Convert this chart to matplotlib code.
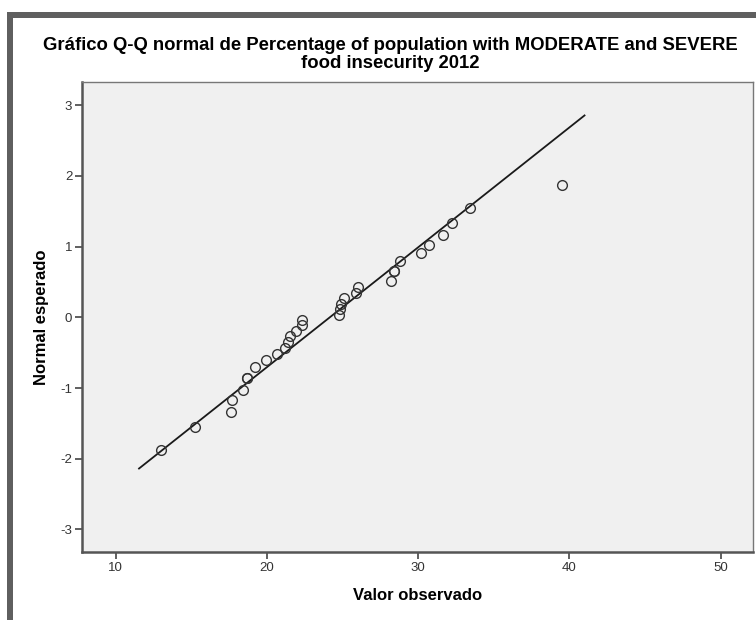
import numpy as np
import matplotlib
matplotlib.use("Agg")
import matplotlib.pyplot as plt
from matplotlib.patches import Rectangle

plt.rcParams['font.family'] = ['Liberation Sans', 'DejaVu Sans']
plt.rcParams['axes.unicode_minus'] = False

# Observed percentages (sorted) and their expected normal scores
observed = [13.0, 15.21, 17.62, 17.70, 18.40, 18.70, 18.70, 19.23, 19.91, 20.68,
            21.21, 21.39, 21.50, 21.89, 22.30, 22.34, 24.74, 24.85, 24.90, 25.07,
            25.91, 26.01, 28.21, 28.43, 28.43, 28.83, 30.20, 30.70, 31.63, 32.25,
            33.42, 39.54]
expected = [-1.876, -1.547, -1.335, -1.169, -1.030, -0.852, -0.852, -0.699, -0.605, -0.515,
            -0.431, -0.349, -0.269, -0.191, -0.114, -0.038, 0.038, 0.114, 0.191, 0.269,
            0.349, 0.431, 0.515, 0.651, 0.651, 0.800, 0.908, 1.030, 1.169, 1.335,
            1.547, 1.876]

x_ticks = [10, 20, 30, 40, 50]
y_ticks = [-3, -2, -1, 0, 1, 2, 3]

title_lines = ["Gráfico Q-Q normal de Percentage of population with MODERATE and SEVERE",
               "food insecurity 2012"]
xlabel = "Valor observado"
ylabel = "Normal esperado"

W, H = 756, 620
fig = plt.figure(figsize=(W / 100, H / 100), dpi=100)
fig.patch.set_facecolor("white")

# Outer frame (left and top edges visible)
fig.patches.append(Rectangle((7 / W, 0), 6 / W, (H - 12) / H, transform=fig.transFigure,
                             facecolor="#5f5f5f", edgecolor="none"))
fig.patches.append(Rectangle((7 / W, (H - 18) / H), (W - 7) / W, 6 / H, transform=fig.transFigure,
                             facecolor="#5f5f5f", edgecolor="none"))

ax_l, ax_r, ax_t, ax_b = 82, 753, 82, 552
ax = fig.add_axes([ax_l / W, (H - ax_b) / H, (ax_r - ax_l) / W, (ax_b - ax_t) / H])
ax.set_facecolor("#f0f0f0")

# Reference line: standardized values of the observed data
obs = np.array(observed)
mu, sd = obs.mean(), obs.std(ddof=1)
span = obs.max() - obs.min()
lx = np.array([obs.min() - 0.055 * span, obs.max() + 0.055 * span])
ax.plot(lx, (lx - mu) / sd, color="#1a1a1a", lw=1.3, zorder=2)

ax.plot(observed, expected, linestyle="none", marker="o", markersize=7.0,
        markerfacecolor="none", markeredgecolor="#333333", markeredgewidth=1.0, zorder=3)

ax.set_xlim(7.77, 52.14)
ax.set_ylim(-3.32, 3.33)
ax.set_xticks(x_ticks)
ax.set_yticks(y_ticks)
ax.tick_params(axis="both", direction="out", length=5, width=1.2, color="#444444",
               labelsize=9.5, labelcolor="#333333", pad=2)
ax.tick_params(top=False, right=False)

for side in ("left", "bottom"):
    ax.spines[side].set_linewidth(1.8)
    ax.spines[side].set_color("#555555")
for side in ("top", "right"):
    ax.spines[side].set_linewidth(1.0)
    ax.spines[side].set_color("#777777")

ax.set_xlabel(xlabel, fontsize=12, fontweight="bold", labelpad=10)
ax.set_ylabel(ylabel, fontsize=12, fontweight="bold", labelpad=8)

# Two-line title, each line placed separately
for i, line in enumerate(title_lines):
    fig.text(390 / W, 1 - (45 + 19 * i) / H, line, ha="center", va="center",
             fontsize=13.3, fontweight="bold")

fig.savefig("out.png", dpi=100, facecolor=fig.get_facecolor())
